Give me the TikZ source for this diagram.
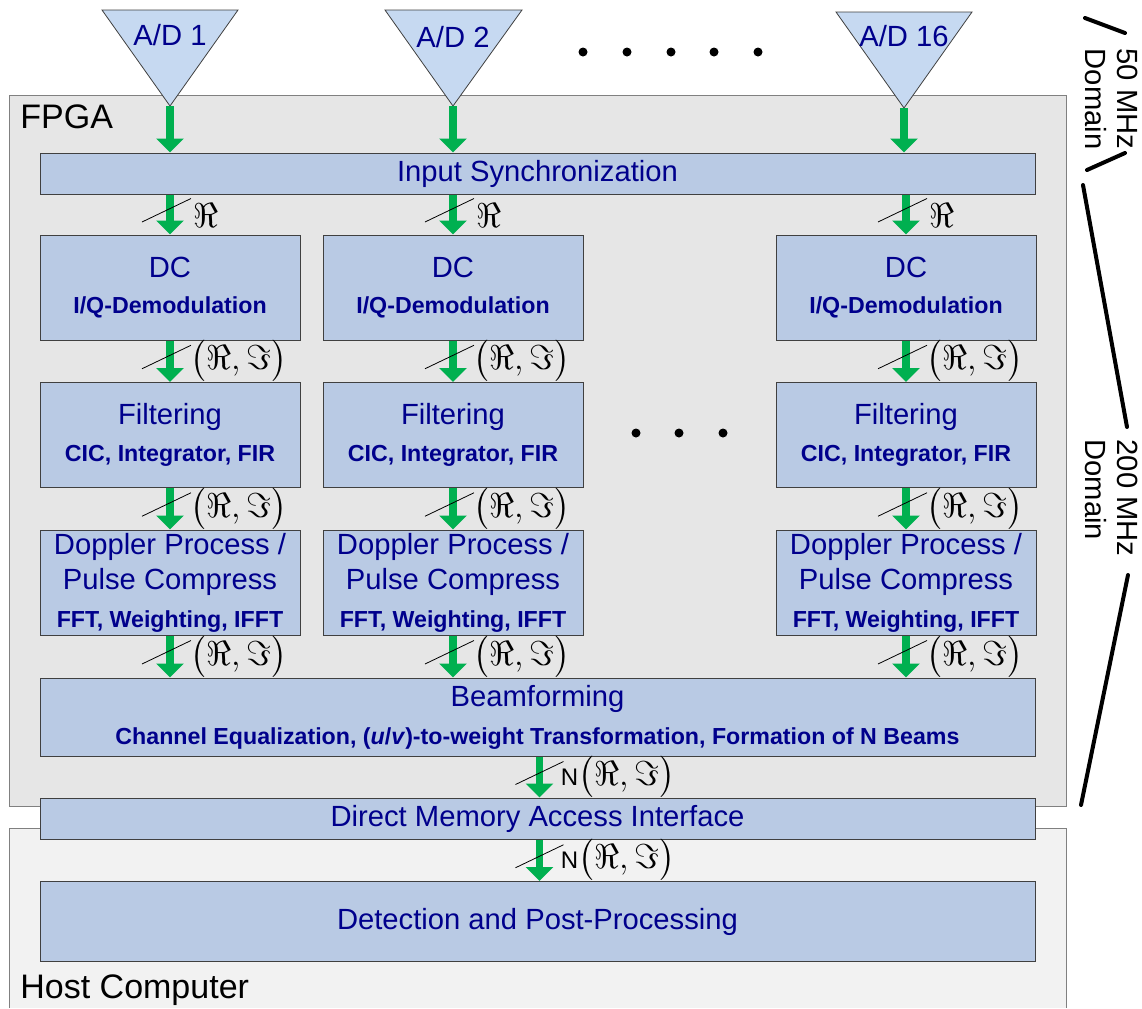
\documentclass[tikz,border=0pt]{standalone}
\usepackage[no-math]{fontspec}
\setmainfont{Liberation Sans}
\usepackage{amsmath}
\usetikzlibrary{arrows.meta}

\definecolor{fpgagray}{RGB}{230,230,230}
\definecolor{hostgray}{RGB}{242,242,242}
\definecolor{stagefill}{RGB}{185,202,228}
\definecolor{adcfill}{RGB}{198,217,241}
\definecolor{stagetext}{RGB}{0,0,140}
\definecolor{flowgreen}{RGB}{0,176,80}
\definecolor{edgegray}{RGB}{64,64,64}

\newcommand{\mainsize}{\fontsize{14.6}{17.5}\selectfont}
\newcommand{\detailsize}{\fontsize{11.6}{14}\selectfont\bfseries}
\newcommand{\labelsize}{\fontsize{17}{20}\selectfont}

\tikzset{
  stage/.style={draw=edgegray, line width=0.5pt, fill=stagefill, text=stagetext, font=\mainsize, align=center, inner sep=0pt},
  colstage/.style={stage, minimum width=130pt, minimum height=52.5pt},
  widestage/.style={stage, minimum width=497.5pt},
  datapath/.style={flowgreen, line width=3.75pt, -{Triangle[width=13.5pt,length=7pt]}},
  busmark/.style={black, line width=0.4pt},
  buslabel/.style={anchor=west, inner sep=0pt, font=\fontsize{16}{18}\selectfont},
  domainbar/.style={line width=2pt, line cap=round},
  domaintext/.style={rotate=-90, align=left, inner sep=0pt, font=\fontsize{14.6}{16}\selectfont}
}

\begin{document}
\begin{tikzpicture}[x=0.5pt,y=-0.5pt]
  \useasboundingbox (0,0) rectangle (1142,1008);

  \filldraw[fill=fpgagray, draw=gray] (9,95) rectangle (1066,806);
  \fill[hostgray] (9,828) rectangle (1066,1008);
  \draw[gray] (9,1008) -- (9,828) -- (1066,828) -- (1066,1008);
  \node[anchor=base west, inner sep=0pt, font=\labelsize] (fpga) at (20,128) {FPGA};
  \node[anchor=base west, inner sep=0pt, font=\labelsize] (host) at (20,998) {Host Computer};

  \filldraw[fill=adcfill, draw=edgegray, line width=0.4pt] (102,10) -- (238,10) -- (170,106) -- cycle;
  \filldraw[fill=adcfill, draw=edgegray, line width=0.4pt] (385,10) -- (522,10) -- (453,106) -- cycle;
  \filldraw[fill=adcfill, draw=edgegray, line width=0.4pt] (836,12) -- (972,12) -- (904,108) -- cycle;
  \node[inner sep=0pt, text=stagetext, font=\mainsize] (ad1) at (170,35) {A/D 1};
  \node[inner sep=0pt, text=stagetext, font=\mainsize] (ad2) at (453,37) {A/D 2};
  \node[inner sep=0pt, text=stagetext, font=\mainsize] (ad16) at (904,36) {A/D 16};
  \coordinate (ad1tip) at (170,106);
  \coordinate (ad2tip) at (453,106);
  \coordinate (ad16tip) at (904,108);

  \fill (583,52) circle[radius=2.25pt];
  \fill (627,52) circle[radius=2.25pt];
  \fill (671,52) circle[radius=2.25pt];
  \fill (714,52) circle[radius=2.25pt];
  \fill (758,52) circle[radius=2.25pt];
  \fill (636,433) circle[radius=2.25pt];
  \fill (679,433) circle[radius=2.25pt];
  \fill (723,433) circle[radius=2.25pt];

  \node[widestage, minimum height=20.5pt] (sync) at (537.5,173.5) {\raisebox{-1pt}{Input Synchronization}};

  \node[colstage] (dc1) at (170,287.5) {DC\\[0.5pt]{\detailsize I/Q-Demodulation}};
  \node[colstage] (dc2) at (453,287.5) {DC\\[0.5pt]{\detailsize I/Q-Demodulation}};
  \node[colstage] (dc3) at (906,287.5) {DC\\[0.5pt]{\detailsize I/Q-Demodulation}};
  \node[colstage] (filt1) at (170,435) {Filtering\\[1pt]{\detailsize CIC, Integrator, FIR}};
  \node[colstage] (filt2) at (453,435) {Filtering\\[1pt]{\detailsize CIC, Integrator, FIR}};
  \node[colstage] (filt3) at (906,435) {Filtering\\[1pt]{\detailsize CIC, Integrator, FIR}};
  \node[colstage] (dopp1) at (170,582.5) {Doppler Process /\\Pulse Compress\\[1.5pt]{\detailsize FFT, Weighting, IFFT}};
  \node[colstage] (dopp2) at (453,582.5) {Doppler Process /\\Pulse Compress\\[1.5pt]{\detailsize FFT, Weighting, IFFT}};
  \node[colstage] (dopp3) at (906,582.5) {Doppler Process /\\Pulse Compress\\[1.5pt]{\detailsize FFT, Weighting, IFFT}};

  \node[widestage, minimum height=39pt] (beam) at (537.5,717) {Beamforming\\[1.5pt]{\detailsize Channel Equalization, (\textit{u}/\textit{v})-to-weight Transformation, Formation of N Beams}};
  \node[widestage, minimum height=20.5pt] (dma) at (537.5,818.5) {\raisebox{-1pt}{Direct Memory Access Interface}};
  \node[widestage, minimum height=40pt] (detect) at (537.5,921.5) {Detection and Post-Processing};

  \draw[datapath] (ad1tip) -- (ad1tip |- sync.north);
  \draw[datapath] (ad2tip) -- (ad2tip |- sync.north);
  \draw[datapath] (ad16tip) -- (ad16tip |- sync.north);

  \draw[datapath] (sync.south -| dc1) -- coordinate (b1) (dc1.north);
  \draw[datapath] (sync.south -| dc2) -- coordinate (b2) (dc2.north);
  \draw[datapath] (sync.south -| dc3) -- coordinate (b3) (dc3.north);
  \draw[busmark] ([shift={(-28,7.5)}]b1) -- ([shift={(21,-16)}]b1) ([shift={(23,1)}]b1) node[buslabel] (re1) {$\Re$};
  \draw[busmark] ([shift={(-28,7.5)}]b2) -- ([shift={(21,-16)}]b2) ([shift={(23,1)}]b2) node[buslabel] (re2) {$\Re$};
  \draw[busmark] ([shift={(-28,7.5)}]b3) -- ([shift={(21,-16)}]b3) ([shift={(23,1)}]b3) node[buslabel] (re3) {$\Re$};

  \draw[datapath] (dc1) -- coordinate (b4) (filt1);
  \draw[datapath] (dc2.south) -- coordinate (b5) (filt2.north);
  \draw[datapath] (dc3.south) -- coordinate (b6) (filt3.north);
  \draw[busmark] ([shift={(-28,7.5)}]b4) -- ([shift={(21,-16)}]b4) ([shift={(20,0)}]b4) node[buslabel] (iq1) {$\big(\Re,\Im\big)$};
  \draw[busmark] ([shift={(-28,7.5)}]b5) -- ([shift={(21,-16)}]b5) ([shift={(20,0)}]b5) node[buslabel] (iq2) {$\big(\Re,\Im\big)$};
  \draw[busmark] ([shift={(-28,7.5)}]b6) -- ([shift={(21,-16)}]b6) ([shift={(20,0)}]b6) node[buslabel] (iq3) {$\big(\Re,\Im\big)$};

  \draw[datapath] (filt1.south) -- coordinate (b7) (dopp1.north);
  \draw[datapath] (filt2.south) -- coordinate (b8) (dopp2.north);
  \draw[datapath] (filt3.south) -- coordinate (b9) (dopp3.north);
  \draw[busmark] ([shift={(-28,7.5)}]b7) -- ([shift={(21,-16)}]b7) ([shift={(20,0)}]b7) node[buslabel] (iq4) {$\big(\Re,\Im\big)$};
  \draw[busmark] ([shift={(-28,7.5)}]b8) -- ([shift={(21,-16)}]b8) ([shift={(20,0)}]b8) node[buslabel] (iq5) {$\big(\Re,\Im\big)$};
  \draw[busmark] ([shift={(-28,7.5)}]b9) -- ([shift={(21,-16)}]b9) ([shift={(20,0)}]b9) node[buslabel] (iq6) {$\big(\Re,\Im\big)$};

  \draw[datapath] (dopp1.south) -- coordinate (b10) (dopp1.south |- beam.north);
  \draw[datapath] (dopp2.south) -- coordinate (b11) (dopp2.south |- beam.north);
  \draw[datapath] (dopp3.south) -- coordinate (b12) (dopp3.south |- beam.north);
  \draw[busmark] ([shift={(-28,7.5)}]b10) -- ([shift={(21,-16)}]b10) ([shift={(20,0)}]b10) node[buslabel] (iq7) {$\big(\Re,\Im\big)$};
  \draw[busmark] ([shift={(-28,7.5)}]b11) -- ([shift={(21,-16)}]b11) ([shift={(20,0)}]b11) node[buslabel] (iq8) {$\big(\Re,\Im\big)$};
  \draw[busmark] ([shift={(-28,7.5)}]b12) -- ([shift={(21,-16)}]b12) ([shift={(20,0)}]b12) node[buslabel] (iq9) {$\big(\Re,\Im\big)$};

  \draw[datapath] ([xshift=1pt]beam.south) -- coordinate (b13) ([xshift=1pt]dma.north);
  \draw[datapath] ([xshift=1pt]dma.south) -- coordinate (b14) ([xshift=1pt]detect.north);
  \draw[busmark] ([shift={(-24,7.5)}]b13) -- ([shift={(24,-15.5)}]b13) ([shift={(21,0)}]b13) node[buslabel] (nb1) {{\fontsize{12}{14}\selectfont N}$\big(\Re,\Im\big)$};
  \draw[busmark] ([shift={(-24,7.5)}]b14) -- ([shift={(24,-15.5)}]b14) ([shift={(21,0)}]b14) node[buslabel] (nb2) {{\fontsize{12}{14}\selectfont N}$\big(\Re,\Im\big)$};

  \node[domaintext] (mhz50) at (1112,99) {50 MHz\\Domain};
  \node[domaintext] (mhz200) at (1112,498) {200 MHz\\Domain};
  \draw[domainbar] (1085,18) -- (1125,33);
  \draw[domainbar] (1087,170) -- (1125,153);
  \draw[domainbar] (1083,185) -- (1127,427);
  \draw[domainbar] (1128,575) -- (1081,805);
\end{tikzpicture}
\end{document}
